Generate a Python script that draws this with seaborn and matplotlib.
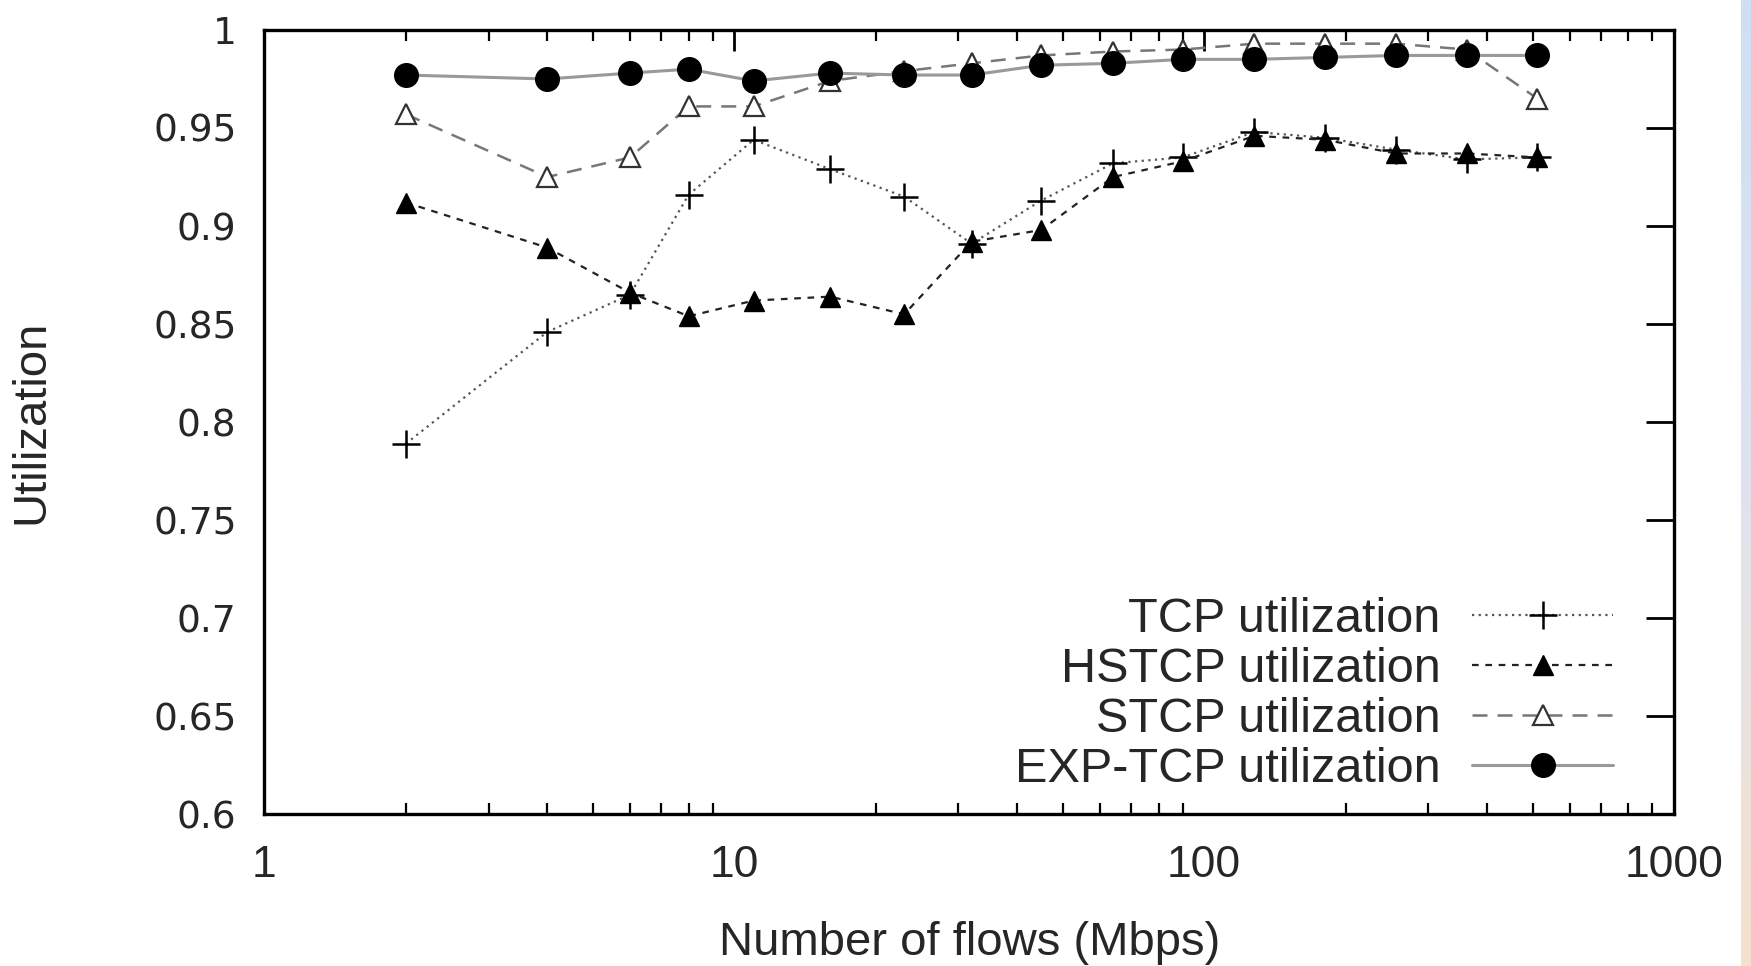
import numpy as np
import pandas as pd
import matplotlib
matplotlib.use("Agg")
import matplotlib.pyplot as plt
import seaborn as sns
from matplotlib.ticker import FixedLocator, LogLocator, NullFormatter, FuncFormatter

flows = [2, 4, 6, 8, 11, 16, 23, 32, 45, 64, 90, 128, 181, 256, 362, 512]
tcp = [0.789, 0.846, 0.865, 0.916, 0.944, 0.929, 0.915, 0.891, 0.913, 0.932, 0.935, 0.948, 0.945, 0.939, 0.934, 0.935]
hstcp = [0.912, 0.889, 0.866, 0.854, 0.862, 0.864, 0.855, 0.892, 0.898, 0.925, 0.933, 0.946, 0.944, 0.937, 0.937, 0.935]
stcp = [0.957, 0.925, 0.935, 0.961, 0.961, 0.974, 0.979, 0.983, 0.987, 0.989, 0.990, 0.993, 0.993, 0.993, 0.990, 0.965]
exptcp = [0.977, 0.975, 0.978, 0.980, 0.974, 0.978, 0.977, 0.977, 0.982, 0.983, 0.985, 0.985, 0.986, 0.987, 0.987, 0.987]
series_names = ["TCP utilization", "HSTCP utilization", "STCP utilization", "EXP-TCP utilization"]
y_ticks = [0.6, 0.65, 0.7, 0.75, 0.8, 0.85, 0.9, 0.95, 1.0]
x_ticks = [1, 10, 100, 1000]

sns.set_theme(style="white")
plt.rcParams['font.family'] = ['Liberation Sans', 'DejaVu Sans']

fig = plt.figure(figsize=(17.51, 9.66), dpi=100)
ax = fig.add_axes([0.151, 0.157, 0.805, 0.812])

styles = [
    dict(color="#555555", linestyle=(0, (1, 2)), linewidth=1.6, marker="+", markersize=20,
         markeredgewidth=1.8, markeredgecolor="black", markerfacecolor="black"),
    dict(color="#222222", linestyle=(0, (3, 3)), linewidth=1.6, marker="^", markersize=14,
         markeredgewidth=1.0, markeredgecolor="black", markerfacecolor="black"),
    dict(color="#777777", linestyle=(0, (6, 4)), linewidth=1.8, marker="^", markersize=15,
         markeredgewidth=1.6, markeredgecolor="#333333", markerfacecolor="white"),
    dict(color="#999999", linestyle="-", linewidth=2.2, marker="o", markersize=17,
         markeredgewidth=1.0, markeredgecolor="black", markerfacecolor="black"),
]
for vals, name, st in zip([tcp, hstcp, stcp, exptcp], series_names, styles):
    sns.lineplot(x=flows, y=vals, ax=ax, label=name, **st)

ax.set_xscale("log")
ax.set_xlim(1, 1000)
ax.set_ylim(0.6, 1.0)
ax.xaxis.set_major_locator(FixedLocator(x_ticks))
ax.xaxis.set_minor_locator(LogLocator(base=10, subs=np.arange(2, 10)))
ax.xaxis.set_minor_formatter(NullFormatter())
ax.xaxis.set_major_formatter(FuncFormatter(lambda v, p: f"{v:g}"))
ax.yaxis.set_major_locator(FixedLocator(y_ticks))
ax.yaxis.set_major_formatter(FuncFormatter(lambda v, p: f"{v:g}"))

ax.tick_params(axis="both", which="major", direction="in", top=True, right=True,
               length=15, width=2, color="black")
ax.tick_params(axis="x", which="minor", direction="in", top=True, bottom=True,
               length=8, width=1.6, color="black")
ax.tick_params(axis="y", which="major", labelsize=27, pad=20, length=20)
ax.tick_params(axis="x", which="major", labelsize=32, pad=22)
for lab in ax.get_yticklabels():
    lab.set_family(["DejaVu Sans"])
for s in ax.spines.values():
    s.set_linewidth(2.4)
    s.set_color("black")

ax.set_xlabel("Number of flows (Mbps)", fontsize=34)
ax.set_ylabel("Utilization", fontsize=34)
ax.xaxis.set_label_coords(0.5, -0.136)
ax.yaxis.set_label_coords(-0.150, 0.5)
ax.grid(False)

leg = ax.legend(loc="lower right", bbox_to_anchor=(0.981, -0.015), frameon=False,
                markerfirst=False, fontsize=35, handlelength=2.9, labelspacing=0.1,
                handletextpad=0.65, borderaxespad=0.3)

# slide background strip on the right edge
grad = np.linspace(0, 1, 256).reshape(-1, 1)
cmap = matplotlib.colors.LinearSegmentedColormap.from_list("bg", ["#cfdff4", "#dfe3ef", "#f6e0cc"])
sax = fig.add_axes([1741 / 1751, 0, 10 / 1751, 1])
sax.imshow(grad, aspect="auto", cmap=cmap, origin="upper")
sax.set_axis_off()

fig.savefig("out.png", dpi=100)
